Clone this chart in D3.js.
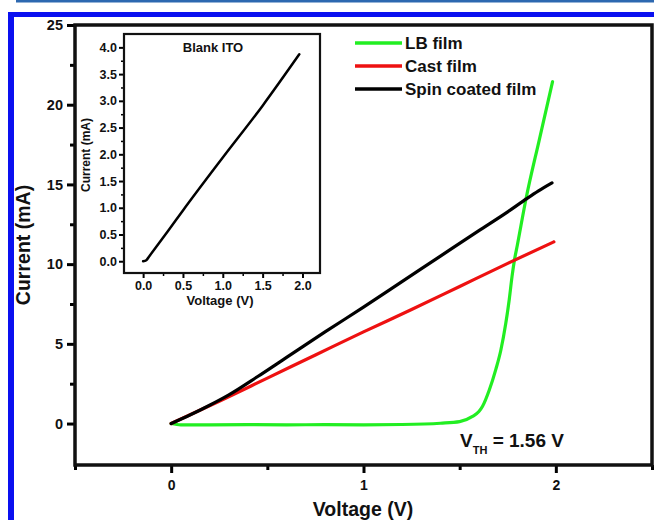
<!DOCTYPE html>
<html lang="en">
<head>
  <meta charset="UTF-8">
  <title>I-V curves</title>
  <script src="https://d3js.org/d3.v7.min.js"></script>
  <style>
    body {
      margin: 0;
      padding: 0;
      background: #fff;
      font-family: Arial, "Liberation Sans", sans-serif;
    }
    .tick text {
      font-weight: bold;
      fill: #111;
    }
    .lbl {
      font-weight: bold;
      fill: #111;
    }
  </style>
</head>
<body>
  <svg id="chart" width="654" height="520"></svg>

  <script>
    // main plot data
    const lbV = [0, 0.05, 0.2, 0.4, 0.6, 0.8, 1.0, 1.2, 1.4, 1.5, 1.567, 1.6, 1.619, 1.654, 1.688, 1.714, 1.74, 1.758, 1.772, 1.784, 1.8, 1.845, 1.914, 1.983];
    const lbI = [0, -0.08, -0.08, -0.07, -0.08, -0.07, -0.08, -0.06, 0.02, 0.12, 0.45, 0.75, 1.08, 2.1, 3.4, 4.6, 6.3, 7.8, 9.2, 10.2, 11.2, 14.1, 17.8, 21.45];

    const castV = [0, 0.25, 0.5, 0.75, 1.0, 1.25, 1.5, 1.75, 1.99];
    const castI = [0, 1.4, 2.85, 4.3, 5.75, 7.15, 8.6, 10.05, 11.4];

    const spinV = [0, 0.1, 0.2, 0.3, 0.45, 0.6, 0.8, 1.0, 1.2, 1.4, 1.6, 1.74, 1.83, 1.91, 1.98];
    const spinI = [0, 0.55, 1.15, 1.8, 2.95, 4.15, 5.75, 7.3, 8.9, 10.5, 12.1, 13.2, 13.95, 14.6, 15.1];

    // inset data (blank ITO)
    const itoV = [0, 0.04, 0.08, 0.31, 0.5, 1.0, 1.5, 1.96];
    const itoI = [0, 0.02, 0.1, 0.56, 0.95, 1.94, 2.91, 3.87];

    const legendNames = ["LB film", "Cast film", "Spin coated film"];
    const colors = ["#22ee22", "#ee1111", "#000000"];

    const xTicks = [0, 1, 2];
    const yTicks = [0, 5, 10, 15, 20, 25];
    const inXTicks = [0, 0.5, 1, 1.5, 2];
    const inYTicks = [0, 0.5, 1, 1.5, 2, 2.5, 3, 3.5, 4];

    const svg = d3.select("#chart");

    // blue frame of the page
    svg.append("rect").attr("x", 16).attr("y", 0).attr("width", 638).attr("height", 2.5).attr("fill", "#2d68b0");
    svg.append("rect").attr("x", 8).attr("y", 12).attr("width", 646).attr("height", 5).attr("fill", "#0a10f0");
    svg.append("rect").attr("x", 8).attr("y", 12).attr("width", 6).attr("height", 508).attr("fill", "#0a10f0");

    // ---- main plot ----
    const x = d3.scaleLinear().domain([-0.5, 2.5]).range([75, 652]);
    const y = d3.scaleLinear().domain([-2.6, 25]).range([465, 25]);

    const line = (vs, is, sx, sy) => d3.line().curve(d3.curveMonotoneX)
      .x(d => sx(d[0])).y(d => sy(d[1]))(d3.zip(vs, is));

    // minor ticks
    const xMinor = d3.axisBottom(x).tickValues([-0.5, 0.5, 1.5, 2.5]).tickSize(5).tickFormat("");
    const yMinor = d3.axisLeft(y).tickValues([2.5, 7.5, 12.5, 17.5, 22.5]).tickSize(5).tickFormat("");
    svg.append("g").attr("transform", "translate(0,465)").call(xMinor).call(g => g.select(".domain").remove())
      .selectAll("line").attr("stroke-width", 3);
    svg.append("g").attr("transform", "translate(75,0)").call(yMinor).call(g => g.select(".domain").remove())
      .selectAll("line").attr("stroke-width", 3);

    const gx = svg.append("g").attr("transform", "translate(0,465)")
      .call(d3.axisBottom(x).tickValues(xTicks).tickSize(8).tickPadding(7).tickFormat(d3.format("d")));
    gx.selectAll("text").attr("font-size", 14);
    gx.selectAll("line").attr("stroke-width", 3);
    gx.select(".domain").remove();

    const gy = svg.append("g").attr("transform", "translate(75,0)")
      .call(d3.axisLeft(y).tickValues(yTicks).tickSize(8).tickPadding(4).tickFormat(d3.format("d")));
    gy.selectAll("text").attr("font-size", 14.5);
    gy.selectAll("line").attr("stroke-width", 3);
    gy.select(".domain").remove();

    svg.append("rect").attr("x", 75).attr("y", 25).attr("width", 577).attr("height", 440)
      .attr("fill", "none").attr("stroke", "#111").attr("stroke-width", 3.5);

    // curves
    const series = [[lbV, lbI], [castV, castI], [spinV, spinI]];
    series.forEach((s, i) => {
      svg.append("path").attr("d", line(s[0], s[1], x, y))
        .attr("fill", "none").attr("stroke", colors[i]).attr("stroke-width", 3.2)
        .attr("stroke-linejoin", "round").attr("stroke-linecap", "round");
    });

    // legend
    legendNames.forEach((name, i) => {
      const ly = 43 + i * 23;
      svg.append("line").attr("x1", 355).attr("x2", 402).attr("y1", ly).attr("y2", ly)
        .attr("stroke", colors[i]).attr("stroke-width", 3.5);
      svg.append("text").attr("class", "lbl").attr("x", 405).attr("y", ly + 6)
        .attr("font-size", 17).text(name);
    });

    // threshold label
    const vth = svg.append("text").attr("class", "lbl").attr("x", 460).attr("y", 447)
      .attr("font-size", 19);
    vth.append("tspan").text("V");
    vth.append("tspan").attr("font-size", 11).attr("dy", 7).text("TH");
    vth.append("tspan").attr("dy", -7).text(" = 1.56 V");

    // axis titles
    svg.append("text").attr("class", "lbl").attr("x", 363).attr("y", 516)
      .attr("text-anchor", "middle").attr("font-size", 19.5).text("Voltage (V)");
    svg.append("text").attr("class", "lbl").attr("transform", "translate(30,245) rotate(-90)")
      .attr("text-anchor", "middle").attr("font-size", 19.5).text("Current (mA)");

    // ---- inset ----
    const iBottom = 273;
    const ix = d3.scaleLinear().domain([-0.24, 2.22]).range([124, 320]);
    const iy = d3.scaleLinear().domain([-0.22, 4.25]).range([iBottom, 34]);

    svg.append("g").attr("transform", `translate(0,${iBottom})`)
      .call(d3.axisBottom(ix).tickValues([0.25, 0.75, 1.25, 1.75]).tickSize(3).tickFormat(""))
      .call(g => g.select(".domain").remove()).selectAll("line").attr("stroke-width", 1.5);
    svg.append("g").attr("transform", "translate(124,0)")
      .call(d3.axisLeft(iy).tickValues([0.25, 0.75, 1.25, 1.75, 2.25, 2.75, 3.25, 3.75]).tickSize(3).tickFormat(""))
      .call(g => g.select(".domain").remove()).selectAll("line").attr("stroke-width", 1.5);

    const igx = svg.append("g").attr("transform", `translate(0,${iBottom})`)
      .call(d3.axisBottom(ix).tickValues(inXTicks).tickSize(5).tickPadding(3).tickFormat(d3.format(".1f")));
    igx.selectAll("text").attr("font-size", 12.5);
    igx.selectAll("line").attr("stroke-width", 2);
    igx.select(".domain").remove();

    const igy = svg.append("g").attr("transform", "translate(124,0)")
      .call(d3.axisLeft(iy).tickValues(inYTicks).tickSize(5).tickPadding(2).tickFormat(d3.format(".1f")));
    igy.selectAll("text").attr("font-size", 12.5);
    igy.selectAll("line").attr("stroke-width", 2);
    igy.select(".domain").remove();

    svg.append("rect").attr("x", 124).attr("y", 34).attr("width", 196).attr("height", iBottom - 34)
      .attr("fill", "none").attr("stroke", "#111").attr("stroke-width", 2.2);

    svg.append("path").attr("d", line(itoV, itoI, ix, iy))
      .attr("fill", "none").attr("stroke", "#000").attr("stroke-width", 2.5)
      .attr("stroke-linejoin", "round").attr("stroke-linecap", "round");

    svg.append("text").attr("class", "lbl").attr("x", 213).attr("y", 52)
      .attr("text-anchor", "middle").attr("font-size", 13).text("Blank ITO");
    svg.append("text").attr("class", "lbl").attr("x", 220).attr("y", 305)
      .attr("text-anchor", "middle").attr("font-size", 13).text("Voltage (V)");
    svg.append("text").attr("class", "lbl").attr("transform", "translate(90,155) rotate(-90)")
      .attr("text-anchor", "middle").attr("font-size", 12).text("Current (mA)");
  </script>
</body>
</html>
